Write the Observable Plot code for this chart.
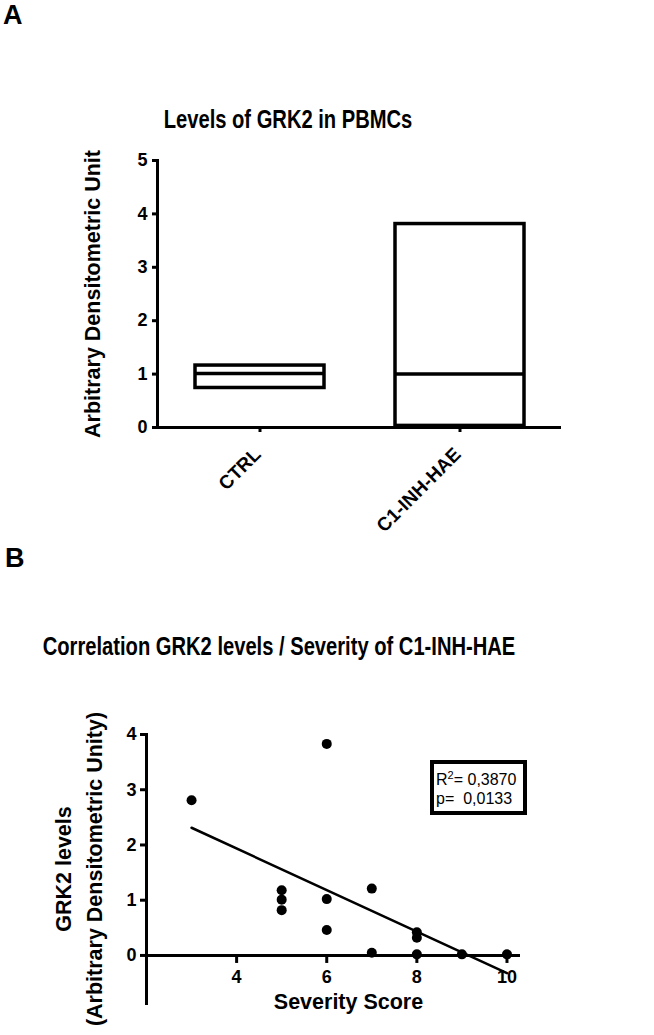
<!DOCTYPE html>
<html><head><meta charset="utf-8">
<script src="https://cdn.jsdelivr.net/npm/d3@7"></script>
<script src="https://cdn.jsdelivr.net/npm/@observablehq/plot@0.6"></script>
<style>
body{margin:0;background:#fff;}
#wrap{position:relative;width:654px;height:1035px;overflow:hidden;font-family:"Liberation Sans",Arial,Helvetica,sans-serif;color:#000;}
.abs{position:absolute;line-height:1;white-space:nowrap;}
.panel{font-size:27px;font-weight:bold;}
.title{font-family:"Liberation Sans",Arial,Helvetica,sans-serif;font-weight:bold;font-size:26px;transform:translateX(-50%) scaleX(0.775);}
</style></head><body>
<div id="wrap">
<div class="abs panel" style="left:3px;top:2px">A</div>
<div class="abs title" id="titleA" style="left:287.5px;top:106px"></div>
<div class="abs" id="plotA" style="left:0;top:140px"></div>
<div class="abs panel" style="left:5px;top:545px">B</div>
<div class="abs title" id="titleB" style="left:279px;top:633px"></div>
<div class="abs" id="plotB" style="left:0;top:700px"></div>
</div>
<script>
// ---------- data: panel A ----------
const titleA = "Levels of GRK2 in PBMCs";
const yLabelA = "Arbitrary Densitometric Unit";
const groups = ["CTRL", "C1-INH-HAE"];
const boxLow = [0.74, 0.03];
const boxMedian = [1.01, 1.00];
const boxHigh = [1.16, 3.81];
const yTicksA = [0, 1, 2, 3, 4, 5];

// ---------- data: panel B ----------
const titleB = "Correlation GRK2 levels / Severity of C1-INH-HAE";
const yLabelB = "GRK2 levels\n(Arbitrary Densitometric Unity)";
const xLabelB = "Severity Score";
const severity = [3, 5, 5, 5, 6, 6, 6, 7, 7, 8, 8, 8, 9, 10];
const grk2 = [2.81, 1.18, 1.01, 0.82, 3.83, 1.02, 0.46, 1.21, 0.05, 0.42, 0.32, 0.02, 0.02, 0.02];
const xTicksB = [4, 6, 8, 10];
const yTicksB = [0, 1, 2, 3, 4];
const statR2 = "= 0,3870";
const statP = "p=  0,0133";

document.getElementById("titleA").textContent = titleA;
document.getElementById("titleB").textContent = titleB;

const font = "'Liberation Sans', Arial, Helvetica, sans-serif";
const fmt = d => String(d);

// ---------- panel A ----------
const tableA = groups.map((g, i) => ({group: g, low: boxLow[i], median: boxMedian[i], high: boxHigh[i]}));
const plotA = Plot.plot({
  width: 654, height: 440,
  marginLeft: 157, marginRight: 93, marginTop: 20, marginBottom: 153,
  style: {fontFamily: font, fontSize: "18px", fontWeight: "bold", background: "white", overflow: "visible", color: "black"},
  x: {type: "band", domain: groups, paddingInner: 0.357, paddingOuter: 0.186, axis: null},
  y: {domain: [0, 5]},
  marks: [
    Plot.barY(tableA, {x: "group", y1: "low", y2: "high", fill: "white", stroke: "black", strokeWidth: 3.5}),
    Plot.tickY(tableA, {x: "group", y: "median", stroke: "black", strokeWidth: 3.5}),
    Plot.ruleY([0], {stroke: "black", strokeWidth: 3}),
    Plot.frame({anchor: "left", stroke: "black", strokeWidth: 3}),
    Plot.axisY({ticks: yTicksA, tickFormat: fmt, tickSize: 5, tickPadding: 5, strokeWidth: 3, fontSize: 18, label: null}),
    Plot.ruleX(groups, {x: d => d, y: 0, insetBottom: -5, stroke: "black", strokeWidth: 3}),
    Plot.text(groups, {x: d => d, text: d => d, frameAnchor: "bottom", rotate: -45, textAnchor: "end", lineAnchor: "bottom", dx: 2, dy: 28, fontSize: 19}),
    Plot.text([yLabelA], {text: d => d, frameAnchor: "left", rotate: -90, textAnchor: "middle", lineAnchor: "middle", dx: -64, fontSize: 21.5})
  ]
});
document.getElementById("plotA").appendChild(plotA);

// ---------- panel B ----------
const tableB = severity.map((s, i) => ({severity: s, grk2: grk2[i]}));
const plotB = Plot.plot({
  width: 654, height: 335,
  marginLeft: 146, marginRight: 134, marginTop: 34, marginBottom: 32,
  style: {fontFamily: font, fontSize: "18px", fontWeight: "bold", background: "white", overflow: "visible", color: "black"},
  x: {domain: [2, 10.3], axis: null},
  y: {domain: [-0.87, 4]},
  marks: [
    Plot.ruleY([0], {stroke: "black", strokeWidth: 3}),
    Plot.frame({anchor: "left", stroke: "black", strokeWidth: 3}),
    Plot.axisY({ticks: yTicksB, tickFormat: fmt, tickSize: 6, tickPadding: 4, strokeWidth: 3, fontSize: 18, label: null}),
    Plot.ruleX(xTicksB, {x: d => d, y: 0, insetBottom: -8, stroke: "black", strokeWidth: 3}),
    Plot.text(xTicksB, {x: d => d, y: 0, text: fmt, dy: 22, lineAnchor: "middle", fontSize: 18}),
    Plot.linearRegressionY(tableB, {x: "severity", y: "grk2", ci: 0, stroke: "black", strokeWidth: 2.5}),
    Plot.dot(tableB, {x: "severity", y: "grk2", r: 5, fill: "black", stroke: "none"}),
    Plot.text([yLabelB], {text: d => d, frameAnchor: "left", rotate: -90, textAnchor: "middle", lineAnchor: "middle", lineHeight: 1.45, dx: -70, fontSize: 21.5}),
    Plot.text([xLabelB], {text: d => d, frameAnchor: "bottom", textAnchor: "middle", lineAnchor: "bottom", dx: 15, dy: 5, fontSize: 21.5})
  ]
});
document.getElementById("plotB").appendChild(plotB);

// statistics annotation box (panel B, top right)
const gs = d3.select(plotB).append("g")
  .attr("font-family", font).attr("font-weight", "normal").attr("font-size", 16).attr("text-anchor", "start");
gs.append("rect").attr("x", 432).attr("y", 62).attr("width", 93).attr("height", 51)
  .attr("fill", "white").attr("stroke", "black").attr("stroke-width", 4);
const t1 = gs.append("text").attr("x", 436).attr("y", 85).attr("text-anchor", "start");
t1.append("tspan").text("R");
t1.append("tspan").attr("dy", -6).attr("font-size", 11).text("2");
t1.append("tspan").attr("dy", 6).text(statR2);
gs.append("text").attr("x", 436).attr("y", 104).attr("text-anchor", "start").style("white-space", "pre").text(statP);
</script>
</body></html>
